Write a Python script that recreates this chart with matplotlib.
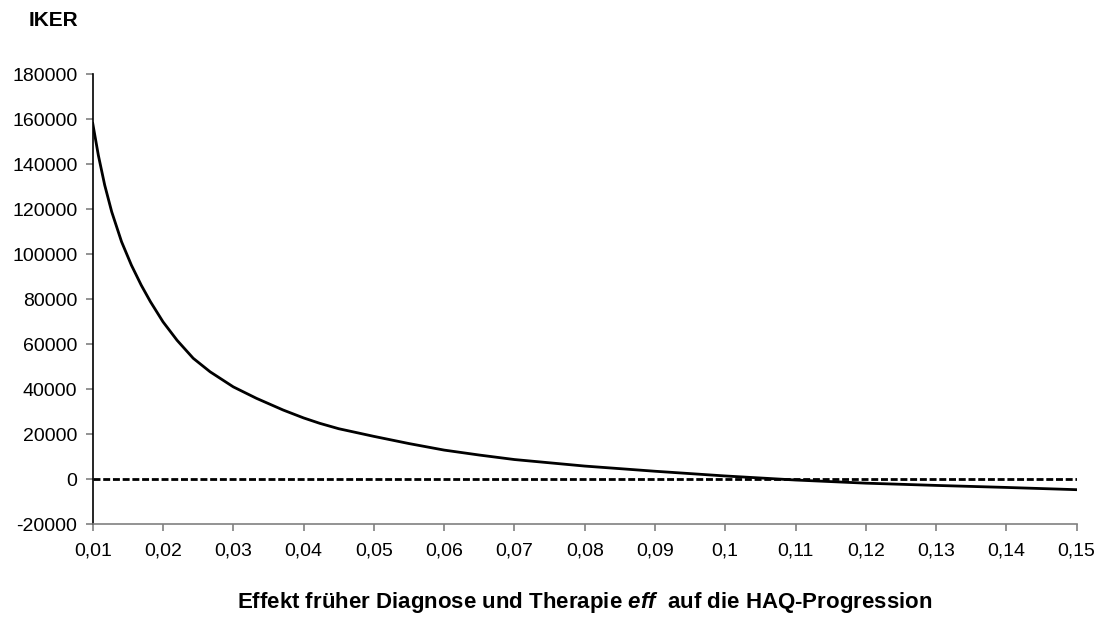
import matplotlib
matplotlib.use("Agg")
import matplotlib.pyplot as plt

plt.rcParams['font.family'] = ['Liberation Sans', 'DejaVu Sans']
plt.rcParams['mathtext.fontset'] = 'custom'
plt.rcParams['mathtext.it'] = 'Liberation Sans:bold:italic'
plt.rcParams['mathtext.rm'] = 'Liberation Sans:bold'

eff = [0.0100, 0.0108, 0.0117, 0.0127, 0.0141, 0.0155, 0.0169, 0.0182, 0.0200,
       0.0220, 0.0243, 0.0267, 0.0300, 0.0333, 0.0371, 0.0400, 0.0423, 0.0450,
       0.0500, 0.0550, 0.0600, 0.0650, 0.0700, 0.0800, 0.0900, 0.1000, 0.1100,
       0.1200, 0.1300, 0.1400, 0.1500]
iker = [158200, 144000, 130800, 118900, 105600, 95200, 86300, 79000, 70000,
        61800, 53800, 47800, 41100, 36000, 30800, 27300, 24900, 22500,
        19100, 15900, 13000, 10800, 8800, 5900, 3600, 1500, -300,
        -1700, -2700, -3600, -4600]
baseline = [0, 0]
baseline_x = [0.01, 0.15]

xticks = [0.01, 0.02, 0.03, 0.04, 0.05, 0.06, 0.07, 0.08, 0.09, 0.10,
          0.11, 0.12, 0.13, 0.14, 0.15]
xticklabels = ["0,01", "0,02", "0,03", "0,04", "0,05", "0,06", "0,07", "0,08",
               "0,09", "0,1", "0,11", "0,12", "0,13", "0,14", "0,15"]
yticks = [-20000, 0, 20000, 40000, 60000, 80000, 100000, 120000, 140000, 160000, 180000]

fig = plt.figure(figsize=(11.08, 6.41), dpi=100)
ax = fig.add_axes([0.0837, 0.182, 0.888, 0.702])

ax.plot(baseline_x, baseline, color='black', lw=2, linestyle=(0, (2.5, 1)), zorder=2)
ax.plot(eff, iker, color='black', lw=2, solid_joinstyle='round', zorder=3)

ax.set_xlim(0.01, 0.15)
ax.set_ylim(-20000, 180000)
ax.set_xticks(xticks)
ax.set_xticklabels(xticklabels)
ax.set_yticks(yticks)
ax.set_yticklabels([str(v) for v in yticks])

for s in ['top', 'right']:
    ax.spines[s].set_visible(False)
ax.spines['left'].set_color('black')
ax.spines['left'].set_linewidth(1.2)
ax.spines['bottom'].set_color('#808080')
ax.spines['bottom'].set_linewidth(1.2)
ax.tick_params(axis='both', direction='out', length=5, width=1.2, color='#808080',
               labelsize=14, labelcolor='black')
ax.tick_params(axis='x', pad=8)
ax.tick_params(axis='y', pad=6)

fig.text(0.026, 0.968, 'IKER', fontsize=15, fontweight='bold', ha='left', va='center')
fig.text(0.528, 0.06,
         'Effekt früher Diagnose und Therapie $\\mathit{eff}$  auf die HAQ-Progression',
         fontsize=16, fontweight='bold', ha='center', va='center')

fig.savefig('out.png', dpi=100)
